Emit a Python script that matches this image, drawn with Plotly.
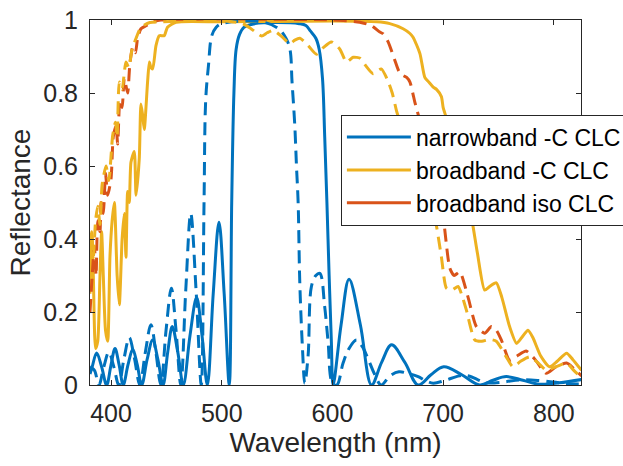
import plotly.graph_objects as go

# ---------------- data ----------------
nb_c_x = [381, 383, 387, 391.5, 396, 400, 403.6, 407.3, 411, 415.3, 419.6, 423.7, 427.7, 432.6, 437.6, 442.3, 447,
          451.2, 455.3, 460.3, 465.3, 471.3, 477.3, 482.2, 487, 492.3, 497.5, 502.2, 506.8,
          509, 511, 513, 516, 520, 530, 550, 570, 576, 580, 585, 588, 591, 593, 595, 597, 599, 600.6,
          607.8, 615, 625.2, 635.3, 644.4, 653.4, 665.4, 677.4, 689, 700.5, 716.8, 733, 745, 757, 772, 787, 805, 825]
nb_c_y = [0.03, 0.05, 0.088, 0.05, 0.0, 0.055, 0.1, 0.055, 0.0, 0.055, 0.098, 0.055, 0.0, 0.07, 0.123, 0.07, 0.0,
          0.09, 0.16, 0.09, 0.0, 0.135, 0.24, 0.135, 0.0, 0.25, 0.446, 0.25, 0.0,
          0.5, 0.8, 0.92, 0.96, 0.98, 0.99, 0.993, 0.99, 0.985, 0.97, 0.95, 0.92, 0.84, 0.68, 0.5, 0.3, 0.12, 0.0,
          0.165, 0.29, 0.165, 0.0, 0.062, 0.11, 0.062, 0.0, 0.028, 0.05, 0.028, 0.0, 0.013, 0.023, 0.013, 0.002, 0.006, 0.015]

nb_iso_x = [381, 385, 389, 393.5, 398, 402.5, 407, 411.7, 416.5, 421.2, 426, 431, 436, 440.5, 445, 449.7, 454.5,
            458.7, 463, 467.5, 472, 476.8, 481.5, 484, 485.5, 488, 491, 495, 500, 536, 551, 558, 561.6, 563.5,
            566, 567.5, 569, 570.5, 573, 575, 578, 581, 585, 588.6, 593, 596, 600, 604, 609.6, 615, 621.7, 627,
            632, 638, 644, 652, 660, 668, 677.4, 684, 691, 701, 712, 718, 724, 731, 739, 754, 769, 787, 800, 811.5, 825]
nb_iso_y = [0.05, 0.04, 0.0, 0.05, 0.09, 0.05, 0.0, 0.072, 0.13, 0.072, 0.0, 0.09, 0.165, 0.09, 0.0, 0.15, 0.265,
            0.15, 0.0, 0.26, 0.47, 0.26, 0.0, 0.5, 0.78, 0.875, 0.957, 0.98, 0.99, 0.995, 0.977, 0.95, 0.92, 0.83,
            0.71, 0.6, 0.5, 0.28, 0.096, 0.005, 0.08, 0.27, 0.3, 0.306, 0.214, 0.12, 0.005, 0.0, 0.06, 0.1, 0.123, 0.105,
            0.073, 0.03, 0.0, 0.025, 0.036, 0.032, 0.023, 0.012, 0.005, 0.012, 0.023, 0.027, 0.024, 0.015, 0.006, 0.008, 0.014, 0.012, 0.008, 0.004, 0.003]

bb_c_x = [381, 382.5, 384, 386, 388, 390, 391.5, 393, 395, 397, 399, 401, 403, 405.5, 407.5, 410, 412, 413.5, 415,
          416.5, 418, 421, 422.6, 425.5, 427, 428.5, 430, 433, 434.6, 436, 437.6, 440.6, 443.6, 448, 451, 458.7,
          500, 600, 640, 651.8, 663.8, 670, 672.8, 679, 683.4, 687, 691, 694, 698.4, 700, 703, 710, 718, 725.5,
          731, 737.5, 742, 748, 753, 760, 766.3, 771, 776.6, 781, 788, 796, 803, 811.5, 817, 825]
bb_c_y = [0.25, 0.42, 0.3, 0.1, 0.12, 0.3, 0.42, 0.3, 0.15, 0.12, 0.35, 0.45, 0.5, 0.3, 0.22, 0.4, 0.47, 0.35, 0.53,
          0.5, 0.61, 0.64, 0.52, 0.62, 0.77, 0.74, 0.70, 0.83, 0.885, 0.87, 0.866, 0.93, 0.957, 0.957, 0.98, 0.994,
          0.995, 0.997, 0.995, 0.99, 0.976, 0.963, 0.953, 0.908, 0.843, 0.83, 0.816, 0.81, 0.79, 0.76, 0.73, 0.64, 0.55, 0.46,
          0.36, 0.26, 0.27, 0.28, 0.24, 0.16, 0.114, 0.13, 0.15, 0.13, 0.08, 0.05, 0.065, 0.087, 0.07, 0.04]

bb_iso_x = [381, 383, 385, 386.5, 388, 390, 391, 393, 395, 397, 400, 402, 404.5, 406, 408, 410, 412, 415, 417,
            419.6, 422, 424, 427, 432, 437.6, 445, 600, 624.7, 635, 642.8, 645.8, 650.3, 656.3, 660, 663.8, 667,
            670, 674.4, 676, 682, 690, 695, 700, 706, 710, 715, 722.5, 730, 737.5, 743.6, 748, 752.6, 760, 767,
            775, 783, 793, 802, 811.5, 818, 825]
bb_iso_y = [0.2, 0.3, 0.38, 0.3, 0.45, 0.42, 0.5, 0.47, 0.58, 0.52, 0.565, 0.68, 0.71, 0.66, 0.78, 0.76, 0.84, 0.80,
            0.88, 0.925, 0.91, 0.95, 0.976, 0.985, 0.994, 1.0, 1.0, 0.994, 0.985, 0.967, 0.962, 0.94, 0.89, 0.86,
            0.848, 0.843, 0.83, 0.775, 0.757, 0.69, 0.6, 0.53, 0.46, 0.32, 0.3, 0.31, 0.24, 0.16, 0.142, 0.16,
            0.15, 0.123, 0.068, 0.08, 0.093, 0.07, 0.032, 0.05, 0.06, 0.045, 0.025]

bb_c2_x = [381, 382.5, 384, 386, 388, 390, 392, 395.5, 398, 401.5, 404, 405.5, 407.5, 410, 413.5, 416, 419, 422.6,
           427, 435, 445, 500, 519, 527, 536, 541, 546.5, 554, 561.6, 566, 570.6, 578, 585.6, 592, 599, 606.7,
           612.7, 618.7, 625, 630, 636.7, 644, 650, 654, 657.8, 665, 675, 685, 692.4, 698.4, 703, 708, 713.5,
           717, 721, 728.7, 735, 742, 748, 757, 763, 770, 778, 786, 793, 802, 811.5, 818, 825]
bb_c2_y = [0.38, 0.42, 0.35, 0.45, 0.49, 0.44, 0.55, 0.6, 0.56, 0.684, 0.72, 0.68, 0.83, 0.81, 0.885, 0.87, 0.92, 0.95,
           0.98, 0.993, 0.995, 0.998, 0.99, 0.975, 0.956, 0.965, 0.972, 0.955, 0.935, 0.945, 0.95, 0.93, 0.906, 0.925,
           0.94, 0.92, 0.885, 0.898, 0.895, 0.875, 0.853, 0.866, 0.834, 0.8, 0.752, 0.68, 0.6, 0.53, 0.46, 0.351,
           0.265, 0.26, 0.27, 0.245, 0.205, 0.123, 0.12, 0.125, 0.12, 0.077, 0.05, 0.065, 0.077, 0.06, 0.041, 0.05,
           0.06, 0.04, 0.02]

legend_names = ["narrowband -C CLC", "broadband -C CLC", "broadband iso CLC"]
x_ticks = [400, 500, 600, 700, 800]
y_ticks = [0, 0.2, 0.4, 0.6, 0.8, 1]

BLUE = "#0072BD"
ORANGE = "#D95319"
YELLOW = "#EDB120"
DASH = "13px,7px"
LW = 3

fig = go.Figure()
fig.add_trace(go.Scatter(x=nb_c_x, y=nb_c_y, mode="lines", name=legend_names[0],
                         line=dict(color=BLUE, width=LW, shape="spline", smoothing=1.0)))
fig.add_trace(go.Scatter(x=bb_c_x, y=bb_c_y, mode="lines", name=legend_names[1],
                         line=dict(color=YELLOW, width=LW, shape="spline", smoothing=0.6)))
fig.add_trace(go.Scatter(x=bb_iso_x, y=bb_iso_y, mode="lines", showlegend=False,
                         line=dict(color=ORANGE, width=LW, dash=DASH, shape="spline", smoothing=0.6)))
fig.add_trace(go.Scatter(x=nb_iso_x, y=nb_iso_y, mode="lines", showlegend=False,
                         line=dict(color=BLUE, width=LW, dash=DASH, shape="spline", smoothing=1.0)))
fig.add_trace(go.Scatter(x=bb_c2_x, y=bb_c2_y, mode="lines", showlegend=False,
                         line=dict(color=YELLOW, width=LW, dash=DASH, shape="spline", smoothing=0.6)))
# legend proxy (solid sample line for the iso curve)
fig.add_trace(go.Scatter(x=[None], y=[None], mode="lines", name=legend_names[2],
                         line=dict(color=ORANGE, width=LW)))

AX = "#262626"
FONT = "Arial, Liberation Sans, sans-serif"
fig.update_layout(
    width=623, height=466,
    margin=dict(l=90, r=42, t=20, b=81, autoexpand=False),
    paper_bgcolor="white", plot_bgcolor="white",
    font=dict(family=FONT, size=24, color=AX),
    showlegend=True,
    legend=dict(x=0.511, y=0.741, xanchor="left", yanchor="top",
                bgcolor="white", bordercolor=AX, borderwidth=1,
                font=dict(size=23, color="black"), itemwidth=64,
                tracegroupgap=0),
    xaxis=dict(range=[381, 824.5], tickvals=x_ticks, ticks="inside", ticklen=5, tickcolor=AX,
               showline=True, linecolor=AX, linewidth=1, mirror="allticks", showgrid=False,
               zeroline=False, automargin=False, ticklabeloverflow="allow", ticklabelstandoff=6,
               title=dict(text="Wavelength (nm)", font=dict(size=28), standoff=3),
               tickfont=dict(size=25)),
    yaxis=dict(range=[0, 1], tickvals=y_ticks, ticks="inside", ticklen=5, tickcolor=AX,
               showline=True, linecolor=AX, linewidth=1, mirror="allticks", showgrid=False,
               zeroline=False, automargin=False, ticklabeloverflow="allow",
               title=dict(text="Reflectance", font=dict(size=28), standoff=4),
               tickfont=dict(size=25), ticklabelstandoff=6),
)

# remove the browser's default 8px body margin so the figure fills the window exactly
fig.write_html("out.html", config={"displayModeBar": False},
               post_script="document.body.style.margin='0px';")
